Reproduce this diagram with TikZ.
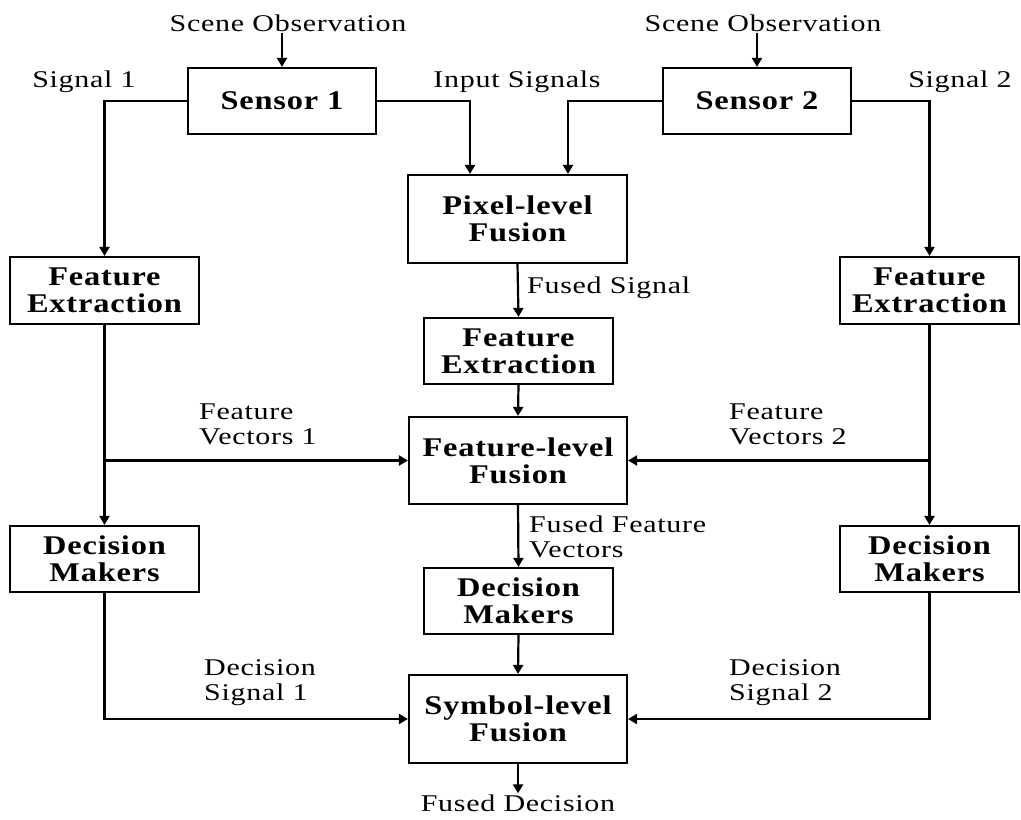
\documentclass[tikz,border=0pt]{standalone}
\usepackage{fontspec}
\setmainfont{Liberation Serif}
\newfontfamily\lblfont{Liberation Serif}[FakeStretch=1.25,LetterSpace=3]
\newfontfamily\boxfont{Liberation Serif}[FakeStretch=1.2,LetterSpace=3,
  BoldFeatures={FakeStretch=1.2,LetterSpace=3}]
\usetikzlibrary{arrows.meta,calc}
\begin{document}
\begin{tikzpicture}[x=1pt,y=-1pt,
  blk/.style={draw, line width=2.2pt, inner sep=0pt, align=center,
    font=\boxfont\bfseries\fontsize{27}{27}\selectfont},
  lbl/.style={inner sep=1pt, align=center, font=\lblfont\fontsize{24}{25}\selectfont},
  lbll/.style={lbl, anchor=west, align=left},
  arr/.style={line width=2.2pt, -{Triangle[width=10pt,length=9pt]}}]
\useasboundingbox (0,0) rectangle (1021,820);

% processing blocks
\node[blk, minimum width=188pt, minimum height=66pt] (s1) at (282,101) {Sensor 1};
\node[blk, minimum width=188pt, minimum height=66pt] (s2) at (757,101) {Sensor 2};
\node[blk, minimum width=219pt, minimum height=88pt] (pix) at (517.5,219) {Pixel-level\\Fusion};
\node[blk, minimum width=189pt, minimum height=67pt] (fe1) at (104.5,290.5) {Feature\\Extraction};
\node[blk, minimum width=179pt, minimum height=67pt] (fe2) at (929.5,290.5) {Feature\\Extraction};
\node[blk, minimum width=189pt, minimum height=66pt] (fe3) at (518.5,351) {Feature\\Extraction};
\node[blk, minimum width=218pt, minimum height=87pt] (ffus) at (518,460.5) {Feature-level\\Fusion};
\node[blk, minimum width=189pt, minimum height=66pt] (dm1) at (104.5,559) {Decision\\Makers};
\node[blk, minimum width=179pt, minimum height=66pt] (dm2) at (929.5,559) {Decision\\Makers};
\node[blk, minimum width=189pt, minimum height=66pt] (dm3) at (518.5,601) {Decision\\Makers};
\node[blk, minimum width=218pt, minimum height=88pt] (sym) at (518,719) {Symbol-level\\Fusion};

% signal labels
\node[lbl] (so1) at (288,23) {Scene Observation};
\node[lbl] (so2) at (763,23) {Scene Observation};
\node[lbl] (sig1) at (84,82) {Signal 1};
\node[lbl] (inp) at (517,82) {Input Signals};
\node[lbl] (sig2) at (960,82) {Signal 2};
\node[lbll] (fs) at (526,288) {Fused Signal};
\node[lbll] (fv1) at (198,424) {Feature\\Vectors 1};
\node[lbll] (fv2) at (728,424) {Feature\\Vectors 2};
\node[lbll] (ffv) at (528,537) {Fused Feature\\Vectors};
\node[lbll] (ds1) at (203,683) {Decision\\Signal 1};
\node[lbll] (ds2) at (728,683) {Decision\\Signal 2};
\node[lbl] (fd) at (518,803) {Fused Decision};

% sensor inputs
\draw[arr] (s1.north |- so1.south) -- (s1.north);
\draw[arr] (s2.north |- so2.south) -- (s2.north);

% sensor outputs
\draw[arr] (s1.west) -| (fe1.north);
\draw[arr] (s2.east) -| (fe2.north);
\draw[arr] (s1.east) -| ([xshift=-47.5pt]pix.north);
\draw[arr] (s2.west) -| ([xshift=50.5pt]pix.north);

% central chain
\draw[arr] (pix.south) -- (fe3.north);
\draw[arr] (fe3.south) -- (ffus.north);
\draw[arr] (ffus.south) -- (dm3.north);
\draw[arr] (dm3.south) -- (sym.north);
\draw[arr] (sym.south) -- (fd.north);

% side branches
\draw[arr] (fe1.south) -- (dm1.north);
\draw[arr] (fe2.south) -- (dm2.north);
\draw[arr] (fe1.south |- ffus.west) -- (ffus.west);
\draw[arr] (fe2.south |- ffus.east) -- (ffus.east);
\draw[arr] (dm1.south) |- (sym.west);
\draw[arr] (dm2.south) |- (sym.east);
\end{tikzpicture}
\end{document}
